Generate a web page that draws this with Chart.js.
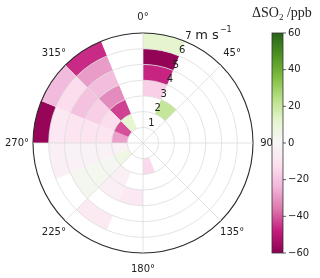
<!DOCTYPE html>
<html>
<head>
<meta charset="utf-8">
<script src="https://cdn.jsdelivr.net/npm/chart.js@4.4.0/dist/chart.umd.min.js"></script>
<style>
  html, body { margin: 0; padding: 0; background: #fff; }
  #wrap { width: 320px; height: 278px; }
</style>
</head>
<body>
<div id="wrap"><canvas id="rose"></canvas></div>
<script>
// wind direction bins (start angle in degrees) and wind speed ring edges (m/s)
const dirBins = [0, 22.5, 45, 67.5, 90, 112.5, 135, 157.5, 180, 202.5, 225, 247.5, 270, 292.5, 315, 337.5];
const dirWidth = 22.5;
const speedEdges = [1, 2, 3, 4, 5, 6, 7];

// delta SO2 (ppb) for each direction bin, one array per speed ring
const ws1to2 = [null, null, null, null, null, null, null, -14, null, null, 6, -3, -28, -41, 11, null];
const ws2to3 = [null, 21, null, null, null, null, null, null, null, -4, 2, -3, -10, -13, -43, null];
const ws3to4 = [-17, null, null, null, null, null, null, null, -8, -4, 3, -3, -10, -17, -32, null];
const ws4to5 = [-47, null, null, null, null, null, null, null, null, null, 3, -3, -10, -21, -22, null];
const ws5to6 = [-59, null, null, null, null, null, null, null, null, -7, null, -4, -8, -13, -29, null];
const ws6to7 = [12, null, null, null, null, null, null, null, null, null, null, null, -58, -23, -46, null];
const speedRings = [ws1to2, ws2to3, ws3to4, ws4to5, ws5to6, ws6to7];

const angleLabels = ['0°', '45°', '90°', '135°', '180°', '225°', '270°', '315°'];
const speedTicks = [1, 2, 3, 4, 5, 6, 7];
const cbTicks = [60, 40, 20, 0, -20, -40, -60];
const cbMin = -60, cbMax = 60;

// PiYG colour map
const piygStops = ['#8e0152', '#c51b7d', '#de77ae', '#f1b6da', '#fde0ef', '#f7f7f7',
                   '#e6f5d0', '#b8e186', '#7fbc41', '#4d9221', '#276419'];

function hexRgb(h) {
    return [parseInt(h.substr(1, 2), 16), parseInt(h.substr(3, 2), 16), parseInt(h.substr(5, 2), 16)];
}

function piyg(v) {
    let t = (v - cbMin) / (cbMax - cbMin);
    t = Math.max(0, Math.min(1, t)) * (piygStops.length - 1);
    const i = Math.min(Math.floor(t), piygStops.length - 2);
    const f = t - i;
    const a = hexRgb(piygStops[i]), b = hexRgb(piygStops[i + 1]);
    const c = a.map((x, n) => Math.round(x + (b[n] - x) * f));
    return `rgb(${c[0]},${c[1]},${c[2]})`;
}

const toRad = deg => (deg - 90) * Math.PI / 180;

// Filled polar cells, drawn under the grid
const cellsPlugin = {
    id: 'cells',
    beforeDatasetsDraw(chart) {
        const r = chart.scales.r;
        const ctx = chart.ctx;
        ctx.save();
        speedRings.forEach((row, j) => {
            const inner = r.getDistanceFromCenterForValue(speedEdges[j]);
            const outer = r.getDistanceFromCenterForValue(speedEdges[j + 1]);
            row.forEach((v, k) => {
                if (v === null) return;
                const a0 = toRad(dirBins[k]);
                const a1 = toRad(dirBins[k] + dirWidth);
                ctx.beginPath();
                ctx.arc(r.xCenter, r.yCenter, outer, a0, a1);
                ctx.arc(r.xCenter, r.yCenter, inner, a1, a0, true);
                ctx.closePath();
                ctx.fillStyle = piyg(v);
                ctx.fill();
            });
        });
        ctx.restore();
    }
};

// Labels, colour bar and title
const decorPlugin = {
    id: 'decor',
    afterDraw(chart) {
        const r = chart.scales.r;
        const cb = chart.scales.cb;
        const ctx = chart.ctx;
        ctx.save();
        ctx.fillStyle = '#222';
        ctx.font = '10px "DejaVu Sans"';
        ctx.textAlign = 'center';
        ctx.textBaseline = 'middle';

        // direction labels
        angleLabels.forEach((lab, i) => {
            const p = r.getPointPosition(i, r.drawingArea + 16);
            ctx.fillText(lab, p.x, p.y);
        });

        // speed labels along ~22.5 deg
        let last = null;
        speedTicks.forEach(s => {
            const d = r.getDistanceFromCenterForValue(s) + 6;
            const p = r.getPointPosition(0, d, 23 * Math.PI / 180);
            ctx.fillText(String(s), p.x, p.y);
            last = p;
        });
        ctx.textAlign = 'left';
        ctx.font = '13px "DejaVu Sans"';
        ctx.fillText('m s', last.x + 7, last.y - 1);
        const w = ctx.measureText('m s').width;
        ctx.font = '8px "DejaVu Sans"';
        ctx.fillText('\u22121', last.x + 7 + w + 1, last.y - 6);

        // colour bar
        const top = cb.getPixelForValue(cbMax);
        const bottom = cb.getPixelForValue(cbMin);
        const x0 = 272, bw = 11;
        const grad = ctx.createLinearGradient(0, bottom, 0, top);
        piygStops.forEach((c, i) => grad.addColorStop(i / (piygStops.length - 1), c));
        ctx.fillStyle = grad;
        ctx.fillRect(x0, top, bw, bottom - top);
        ctx.strokeStyle = '#333';
        ctx.lineWidth = 0.8;
        ctx.strokeRect(x0, top, bw, bottom - top);

        ctx.fillStyle = '#222';
        ctx.font = '10px "DejaVu Sans"';
        ctx.textAlign = 'left';
        ctx.textBaseline = 'middle';
        cbTicks.forEach(v => {
            const y = cb.getPixelForValue(v);
            ctx.beginPath();
            ctx.moveTo(x0 + bw, y);
            ctx.lineTo(x0 + bw + 3, y);
            ctx.stroke();
            ctx.fillText(v < 0 ? '\u2212' + Math.abs(v) : String(v), x0 + bw + 5, y);
        });

        // title
        ctx.textBaseline = 'alphabetic';
        ctx.font = '14px "Liberation Serif"';
        let tx = 252;
        ctx.fillText('\u0394SO', tx, 17);
        tx += ctx.measureText('\u0394SO').width;
        ctx.font = '9px "Liberation Serif"';
        ctx.fillText('2', tx, 20);
        tx += ctx.measureText('2').width;
        ctx.font = '14px "Liberation Serif"';
        ctx.fillText(' /ppb', tx, 17);
        ctx.restore();
    }
};

new Chart(document.getElementById('rose'), {
    type: 'radar',
    data: {
        labels: angleLabels,
        datasets: []
    },
    options: {
        responsive: true,
        maintainAspectRatio: false,
        animation: false,
        layout: { padding: { left: 33, top: 33, right: 67, bottom: 25 } },
        plugins: { legend: { display: false }, tooltip: { enabled: false } },
        scales: {
            r: {
                min: 0,
                max: 7,
                startAngle: 0,
                ticks: { display: false, stepSize: 1 },
                pointLabels: { display: false },
                border: { display: false },
                grid: {
                    circular: true,
                    z: 1,
                    color: ctx => (ctx.tick && ctx.tick.value === 7) ? '#2a2a2a' : '#dcdcdc',
                    lineWidth: ctx => (ctx.tick && ctx.tick.value === 7) ? 1.1 : 0.8
                },
                angleLines: { display: true, color: '#dcdcdc', lineWidth: 0.8 }
            },
            cb: {
                type: 'linear',
                axis: 'y',
                position: 'right',
                display: false,
                min: cbMin,
                max: cbMax
            }
        }
    },
    plugins: [cellsPlugin, decorPlugin]
});
</script>
</body>
</html>
